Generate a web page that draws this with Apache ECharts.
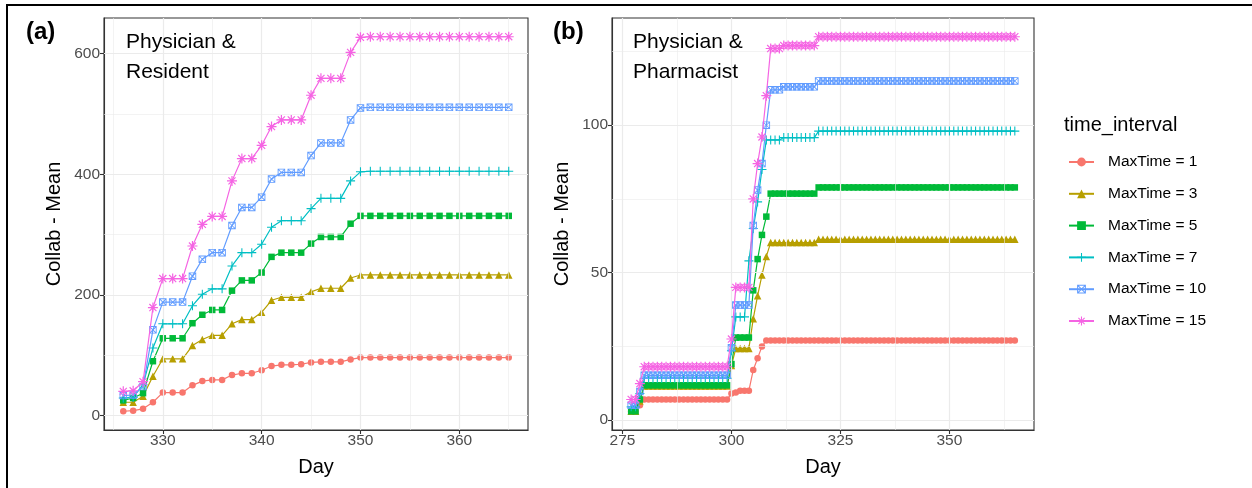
<!DOCTYPE html>
<html>
<head>
<meta charset="utf-8">
<script src="https://cdn.jsdelivr.net/npm/echarts@6/dist/echarts.min.js"></script>
<style>
html,body{margin:0;padding:0;background:#fff;}
#chart{width:1252px;height:488px;}
</style>
</head>
<body>
<div id="chart"></div>
<script>
// ---------- DATA ----------
const seriesNames = ['MaxTime = 1','MaxTime = 3','MaxTime = 5','MaxTime = 7','MaxTime = 10','MaxTime = 15'];

// Panel (a): Physician & Resident
const daysA = [326,327,328,329,330,331,332,333,334,335,336,337,338,339,340,341,342,343,344,345,
  346,347,348,349,350,351,352,353,354,355,356,357,358,359,360,361,362,363,364,365];
const a_mt1 = [7,8,11,22,38,38,38,50,57,59,59,67,70,70,75,82,84,84,85,88,89,89,89,93,96,
  96,96,96,96,96,96,96,96,96,96,96,96,96,96,96];
const a_mt3 = [22,22,32,65,94,94,94,116,126,133,133,152,159,159,171,191,196,196,196,205,211,211,211,228,233,
  233,233,233,233,233,233,233,233,233,233,233,233,233,233,233];
const a_mt5 = [25,29,37,90,128,128,128,153,167,175,175,207,224,224,237,263,270,270,270,285,296,296,296,318,331,
  331,331,331,331,331,331,331,331,331,331,331,331,331,331,331];
const a_mt7 = [29,30,51,112,152,152,152,182,201,210,210,248,270,270,284,312,323,323,323,343,360,360,360,389,404,
  405,405,405,405,405,405,405,405,405,405,405,405,405,405,405];
const a_mt10 = [33,34,48,142,188,188,188,231,259,270,270,315,345,345,362,392,403,403,403,431,452,452,452,490,510,
  511,511,511,511,511,511,511,511,511,511,511,511,511,511,511];
const a_mt15 = [40,41,56,179,227,227,227,281,317,330,330,389,426,426,448,479,490,490,490,531,559,559,559,602,627,
  628,628,628,628,628,628,628,628,628,628,628,628,628,628,628];

// Panel (b): Physician & Pharmacist
const daysB = [277,278,279,280,281,282,283,284,285,286,287,288,289,290,291,292,293,294,295,296,297,298,299,
  300,301,302,303,304,305,306,307,308,309,310,311,312,313,314,315,316,317,318,319,
  320,321,322,323,324,325,326,327,328,329,330,331,332,333,334,335,336,337,338,339,340,341,342,343,344,345,
  346,347,348,349,350,351,352,353,354,355,356,357,358,359,360,361,362,363,364,365];
const b_mt1 = [3,3,5,
  7,7,7,7,7,7,7,7,7,7,7,7,7,7,7,7,7,7,7,7,
  9,9.4,10,10,10,17,21,25,27,
  27,27,27,
  27,27,27,27,27,27,27,27,
  27,27,27,27,27,27,27,27,27,27,27,27,27,27,27,27,27,27,27,27,27,27,27,
  27,27,27,27,27,27,27,27,27,27,27,27,27,27,27,27,27,27,27,27,27,27,27];
const b_mt3 = [3,3,6.5,
  11.6,11.6,11.6,11.6,11.6,11.6,11.6,11.6,11.6,11.6,11.6,11.6,11.6,11.6,11.6,11.6,11.6,11.6,11.6,11.6,
  18.5,24.3,24.3,24.3,24.3,34.4,42.2,49.2,55.5,
  60.2,60.2,60.2,
  60.2,60.2,60.2,60.2,60.2,60.2,60.2,60.2,
  61.3,61.3,61.3,61.3,61.3,61.3,61.3,61.3,61.3,61.3,61.3,61.3,61.3,61.3,61.3,61.3,61.3,61.3,61.3,61.3,61.3,61.3,61.3,
  61.3,61.3,61.3,61.3,61.3,61.3,61.3,61.3,61.3,61.3,61.3,61.3,61.3,61.3,61.3,61.3,61.3,61.3,61.3,61.3,61.3,61.3,61.3];
const b_mt5 = [3,3,7,
  11.8,11.8,11.8,11.8,11.8,11.8,11.8,11.8,11.8,11.8,11.8,11.8,11.8,11.8,11.8,11.8,11.8,11.8,11.8,11.8,
  19,28,28,28,28,44,54.6,62.8,69,
  76.8,76.8,76.8,
  76.8,76.8,76.8,76.8,76.8,76.8,76.8,76.8,
  78.9,78.9,78.9,78.9,78.9,78.9,78.9,78.9,78.9,78.9,78.9,78.9,78.9,78.9,78.9,78.9,78.9,78.9,78.9,78.9,78.9,78.9,78.9,
  78.9,78.9,78.9,78.9,78.9,78.9,78.9,78.9,78.9,78.9,78.9,78.9,78.9,78.9,78.9,78.9,78.9,78.9,78.9,78.9,78.9,78.9,78.9];
const b_mt7 = [4.5,4.5,9,
  14.2,14.2,14.2,14.2,14.2,14.2,14.2,14.2,14.2,14.2,14.2,14.2,14.2,14.2,14.2,14.2,14.2,14.2,14.2,14.2,
  23.5,35,35,35,54,65,74,85,95,
  95,95,95,
  95.8,95.8,95.8,95.8,95.8,95.8,95.8,95.8,
  98,98,98,98,98,98,98,98,98,98,98,98,98,98,98,98,98,98,98,98,98,98,98,
  98,98,98,98,98,98,98,98,98,98,98,98,98,98,98,98,98,98,98,98,98,98,98];
const b_mt10 = [5,5,9.7,
  15.2,15.2,15.2,15.2,15.2,15.2,15.2,15.2,15.2,15.2,15.2,15.2,15.2,15.2,15.2,15.2,15.2,15.2,15.2,15.2,
  24.5,39,39,39,39,66,78,87,100,
  112,112,112,
  113,113,113,113,113,113,113,113,
  115,115,115,115,115,115,115,115,115,115,115,115,115,115,115,115,115,115,115,115,115,115,115,
  115,115,115,115,115,115,115,115,115,115,115,115,115,115,115,115,115,115,115,115,115,115,115];
const b_mt15 = [7,7,12.4,
  18.1,18.1,18.1,18.1,18.1,18.1,18.1,18.1,18.1,18.1,18.1,18.1,18.1,18.1,18.1,18.1,18.1,18.1,18.1,18.1,
  27.5,45,45,45,45,75,87,96,110,
  126,126,126,
  127,127,127,127,127,127,127,127,
  130,130,130,130,130,130,130,130,130,130,130,130,130,130,130,130,130,130,130,130,130,130,130,
  130,130,130,130,130,130,130,130,130,130,130,130,130,130,130,130,130,130,130,130,130,130,130];

// tick labels / gridlines
const ticksAx = [330,340,350,360];
const minorAx = [325,335,345,355,365];
const ticksAy = [0,200,400,600];
const minorAy = [100,300,500];
const ticksBx = [275,300,325,350];
const minorBx = [287.5,312.5,337.5,362.5];
const ticksBy = [0,50,100];
const minorBy = [25,75,125];

// ---------- STYLE ----------
const colors = ['#F8766D','#B79F00','#00BA38','#00BFC4','#619CFF','#F564E3'];
const plusPath = 'path://M4.4,0H5.6V4.4H10V5.6H5.6V10H4.4V5.6H0V4.4H4.4Z';
const boxXPath = 'path://M0,0H10V10H0Z M1.2,1.2V8.8H8.8V1.2Z M1.4,0.6L9.4,8.6L8.6,9.4L0.6,1.4Z M0.6,8.6L8.6,0.6L9.4,1.4L1.4,9.4Z';
const starPath = 'path://M4.4,0H5.6V4.4H10V5.6H5.6V10H4.4V5.6H0V4.4H4.4Z M1.88,1.04L8.96,8.12L8.12,8.96L1.04,1.88Z M1.04,8.12L8.12,1.04L8.96,1.88L1.88,8.96Z';
const symbols = ['circle','triangle','rect',plusPath,boxXPath,starPath];
const symSizes = [6.5,7.5,6.5,9,7.5,10];
const FONT = '"Liberation Sans", Arial, sans-serif';

function expand(arrs){
  let lo=Infinity, hi=-Infinity;
  arrs.forEach(a=>a.forEach(v=>{ if(v<lo)lo=v; if(v>hi)hi=v; }));
  const d=(hi-lo)*0.05; return [lo-d, hi+d];
}
const A = [a_mt1,a_mt3,a_mt5,a_mt7,a_mt10,a_mt15];
const B = [b_mt1,b_mt3,b_mt5,b_mt7,b_mt10,b_mt15];
const xA = expand([daysA]), yA = expand(A);
const xB = expand([daysB]), yB = expand(B);

function axisX(gi, rng, ticks){
  return {type:'value', gridIndex:gi, min:rng[0], max:rng[1], name:'Day', nameLocation:'middle', nameGap:27,
    nameTextStyle:{fontSize:20, color:'#000', fontFamily:FONT},
    axisLine:{show:true, onZero:false, lineStyle:{color:'#333333', width:1.1}},
    axisTick:{show:true, length:4, customValues:ticks, lineStyle:{color:'#333333', width:1.1}},
    axisLabel:{customValues:ticks, color:'#4D4D4D', fontSize:15.5, margin:3, fontFamily:FONT},
    splitLine:{show:false}};
}
function axisY(gi, rng, ticks){
  return {type:'value', gridIndex:gi, min:rng[0], max:rng[1], name:'Collab - Mean', nameLocation:'middle', nameGap:40,
    nameTextStyle:{fontSize:20, color:'#000', fontFamily:FONT},
    axisLine:{show:true, onZero:false, lineStyle:{color:'#333333', width:1.1}},
    axisTick:{show:true, length:4, customValues:ticks, lineStyle:{color:'#333333', width:1.1}},
    axisLabel:{customValues:ticks, color:'#4D4D4D', fontSize:15.5, margin:4, fontFamily:FONT},
    splitLine:{show:false}};
}
function gridSeries(gi, mx, nx, my, ny){
  const maj={color:'#EBEBEB', width:1.2, type:'solid'}, mnr={color:'#EBEBEB', width:0.6, type:'solid'};
  const d=[];
  nx.forEach(v=>d.push({xAxis:v, lineStyle:mnr}));
  ny.forEach(v=>d.push({yAxis:v, lineStyle:mnr}));
  mx.forEach(v=>d.push({xAxis:v, lineStyle:maj}));
  my.forEach(v=>d.push({yAxis:v, lineStyle:maj}));
  return {type:'line', name:'_grid'+gi, xAxisIndex:gi, yAxisIndex:gi, data:[], silent:true, z:1,
    markLine:{silent:true, symbol:['none','none'], label:{show:false}, emphasis:{disabled:true}, animation:false, data:d}};
}
const series=[gridSeries(0,ticksAx,minorAx,ticksAy,minorAy), gridSeries(1,ticksBx,minorBx,ticksBy,minorBy)];
function addPanel(gi, days, arrs){
  arrs.forEach((vals,k)=>{
    series.push({type:'line', name:seriesNames[k], xAxisIndex:gi, yAxisIndex:gi,
      data: days.map((d,i)=>[d, vals[i]]),
      symbol:symbols[k], symbolSize:symSizes[k], showSymbol:true, showAllSymbol:true,
      itemStyle:{color:colors[k]}, lineStyle:{color:colors[k], width:1.2},
      emphasis:{disabled:true}, z:2+k});
  });
}
addPanel(0, daysA, A);
addPanel(1, daysB, B);

const option = {
  animation:false,
  backgroundColor:'#fff',
  textStyle:{fontFamily:FONT},
  grid:[
    {left:104, top:18, width:424, height:412, show:true, borderColor:'#333333', borderWidth:1.1, backgroundColor:'#fff'},
    {left:612, top:18, width:422, height:412, show:true, borderColor:'#333333', borderWidth:1.1, backgroundColor:'#fff'}
  ],
  xAxis:[axisX(0,xA,ticksAx), axisX(1,xB,ticksBx)],
  yAxis:[axisY(0,yA,ticksAy), axisY(1,yB,ticksBy)],
  legend:{data:seriesNames, orient:'vertical', left:1068, top:154, itemWidth:25, itemHeight:11, itemGap:15.8,
    padding:0, selectedMode:false, textStyle:{fontSize:15.5, color:'#000', fontFamily:FONT, padding:[0,0,0,9]}},
  graphic:[
    {type:'rect', silent:true, z:100, shape:{x:7,y:5,width:1270,height:510}, style:{fill:'none', stroke:'#000', lineWidth:2}},
    {type:'text', silent:true, z:100, x:26, y:32, style:{text:'(a)', fontSize:24, fontWeight:'bold', fontFamily:FONT, fill:'#000', verticalAlign:'middle'}},
    {type:'text', silent:true, z:100, x:553, y:32, style:{text:'(b)', fontSize:24, fontWeight:'bold', fontFamily:FONT, fill:'#000', verticalAlign:'middle'}},
    {type:'text', silent:true, z:100, x:126, y:42, style:{text:'Physician &', fontSize:21, fontFamily:FONT, fill:'#000', verticalAlign:'middle'}},
    {type:'text', silent:true, z:100, x:126, y:72, style:{text:'Resident', fontSize:21, fontFamily:FONT, fill:'#000', verticalAlign:'middle'}},
    {type:'text', silent:true, z:100, x:633, y:42, style:{text:'Physician &', fontSize:21, fontFamily:FONT, fill:'#000', verticalAlign:'middle'}},
    {type:'text', silent:true, z:100, x:633, y:72, style:{text:'Pharmacist', fontSize:21, fontFamily:FONT, fill:'#000', verticalAlign:'middle'}},
    {type:'text', silent:true, z:100, x:1064, y:125, style:{text:'time_interval', fontSize:20, fontFamily:FONT, fill:'#000', verticalAlign:'middle'}}
  ],
  series:series
};
const chart = echarts.init(document.getElementById('chart'), null, {renderer:'canvas'});
chart.setOption(option);
</script>
</body>
</html>
